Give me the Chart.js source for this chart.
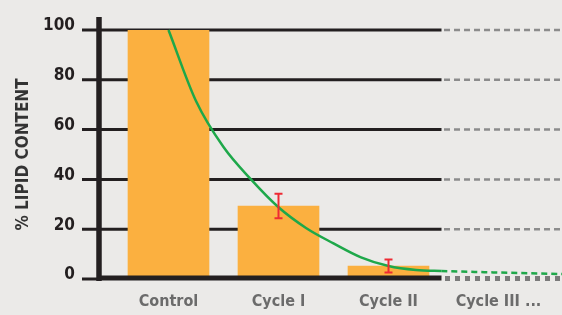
<!DOCTYPE html>
<html>
<head>
<meta charset="utf-8">
<script src="https://cdn.jsdelivr.net/npm/chart.js@4.4.1/dist/chart.umd.min.js"></script>
<style>
  html, body { margin: 0; padding: 0; background: #ebeae8; }
  #wrap { width: 562px; height: 315px; }
</style>
</head>
<body>
<div id="wrap"><canvas id="lipidChart" width="562" height="315"></canvas></div>
<script>
const cycles = ['Control', 'Cycle I', 'Cycle II', 'Cycle III ...'];
const lipidContent = [100, 29.3, 5.2, null];
const lipidError = [0, 4.9, 2.6, 0];
const yTicks = [0, 20, 40, 60, 80, 100];

// green decay curve (x in category units)
const trendX = [0, 0.25, 0.5, 0.75, 1.0, 1.25, 1.5, 1.75, 2.0, 2.25, 2.48, 3.0, 3.58];
const trendY = [100, 71.5, 53, 40, 28.8, 20.5, 14.3, 8.7, 5.2, 3.6, 3.2, 2.6, 2.0];

const FONT = "'DejaVu Sans Condensed', 'Liberation Sans Narrow', 'DejaVu Sans', sans-serif";
const ctx = document.getElementById('lipidChart').getContext('2d');

// pixel where the solid part of the chart stops (between Cycle II and Cycle III)
const splitPixel = chart => chart.scales.x.getPixelForValue(2.5);

const axisLines = {
    id: 'axisLines',
    beforeDatasetsDraw(chart) {
        const c = chart.ctx;
        const y = chart.scales.y;
        const split = splitPixel(chart);
        c.save();
        for (const v of yTicks) {
            if (v === 0) continue;
            const py = y.getPixelForValue(v);
            c.setLineDash([]);
            c.strokeStyle = '#231f20';
            c.lineWidth = 3;
            c.beginPath(); c.moveTo(82, py); c.lineTo(split - 2, py); c.stroke();
            c.setLineDash([6, 4]);
            c.strokeStyle = '#8c8c8c';
            c.lineWidth = 2.5;
            c.beginPath(); c.moveTo(split + 0.5, py); c.lineTo(chart.width, py); c.stroke();
        }
        // vertical axis
        c.setLineDash([]);
        c.strokeStyle = '#231f20';
        c.lineWidth = 5.5;
        c.beginPath(); c.moveTo(99, 17); c.lineTo(99, y.getPixelForValue(0) + 2); c.stroke();
        c.restore();
    },
    afterDatasetsDraw(chart) {
        const c = chart.ctx;
        const y = chart.scales.y;
        const split = splitPixel(chart);
        const py = y.getPixelForValue(0) - 1;
        c.save();
        c.strokeStyle = '#231f20';
        c.lineWidth = 3;
        c.beginPath(); c.moveTo(82, py + 1); c.lineTo(99, py + 1); c.stroke();
        c.lineWidth = 5;
        c.beginPath(); c.moveTo(97, py); c.lineTo(split - 2, py); c.stroke();
        c.setLineDash([5, 5]);
        c.strokeStyle = '#7a7a7a';
        c.beginPath(); c.moveTo(split + 1.5, py + 0.5); c.lineTo(chart.width, py + 0.5); c.stroke();

        // error bars
        const meta = chart.getDatasetMeta(1);
        c.setLineDash([]);
        c.strokeStyle = '#ee2a33';
        c.lineWidth = 2;
        meta.data.forEach((bar, i) => {
            const e = lipidError[i];
            if (!e) return;
            const top = y.getPixelForValue(lipidContent[i] + e);
            const bot = y.getPixelForValue(lipidContent[i] - e);
            c.beginPath();
            c.moveTo(bar.x, top); c.lineTo(bar.x, bot);
            c.moveTo(bar.x - 4, top); c.lineTo(bar.x + 4, top);
            c.moveTo(bar.x - 4, bot); c.lineTo(bar.x + 4, bot);
            c.stroke();
        });
        c.restore();
    }
};

new Chart(ctx, {
    type: 'bar',
    data: {
        datasets: [{
            type: 'line',
            data: trendX.map((v, i) => ({x: v, y: trendY[i]})),
            borderColor: '#1ea84a',
            borderWidth: 2.5,
            pointRadius: 0,
            cubicInterpolationMode: 'monotone',
            clip: false,
            order: 0,
            segment: {
                borderDash: c => c.p0.parsed.x >= 2.47 ? [6, 4] : undefined
            }
        }, {
            data: lipidContent.map((v, i) => ({x: i, y: v})),
            backgroundColor: '#fbb040',
            barThickness: 81,
            order: 1
        }]
    },
    options: {
        responsive: false,
        animation: false,
        layout: { padding: { top: 30, right: 8.5, left: 0, bottom: 0 } },
        plugins: { legend: { display: false }, tooltip: { enabled: false } },
        scales: {
            x: {
                type: 'linear',
                position: 'bottom',
                min: -0.5,
                max: 3.5,
                offset: false,
                grid: { display: false, drawTicks: false, offset: false },
                border: { display: false },
                afterBuildTicks: s => { s.ticks = cycles.map((c, i) => ({value: i})); },
                ticks: {
                    padding: 13,
                    color: '#6b6b6b',
                    font: { family: FONT, size: 16, weight: 'bold' },
                    callback: v => cycles[v]
                },
                afterFit: s => { s.height = 36; }
            },
            y: {
                min: 0,
                max: 100,
                // invisible tick marks push the labels left without padding the top/bottom
                grid: { display: true, drawOnChartArea: false, drawTicks: true, tickLength: 38, color: 'rgba(0,0,0,0)' },
                border: { display: false },
                ticks: {
                    stepSize: 20,
                    padding: 0.5,
                    labelOffset: -4,
                    color: '#231f20',
                    font: { family: FONT, size: 17, weight: 'bold' }
                },
                title: {
                    display: true,
                    text: '% LIPID CONTENT',
                    color: '#333333',
                    padding: { top: 13, bottom: 0 },
                    font: { family: FONT, size: 17, weight: 'bold' }
                },
                afterFit: s => { s.width = 113.5; }
            }
        }
    },
    plugins: [axisLines]
});
</script>
</body>
</html>
